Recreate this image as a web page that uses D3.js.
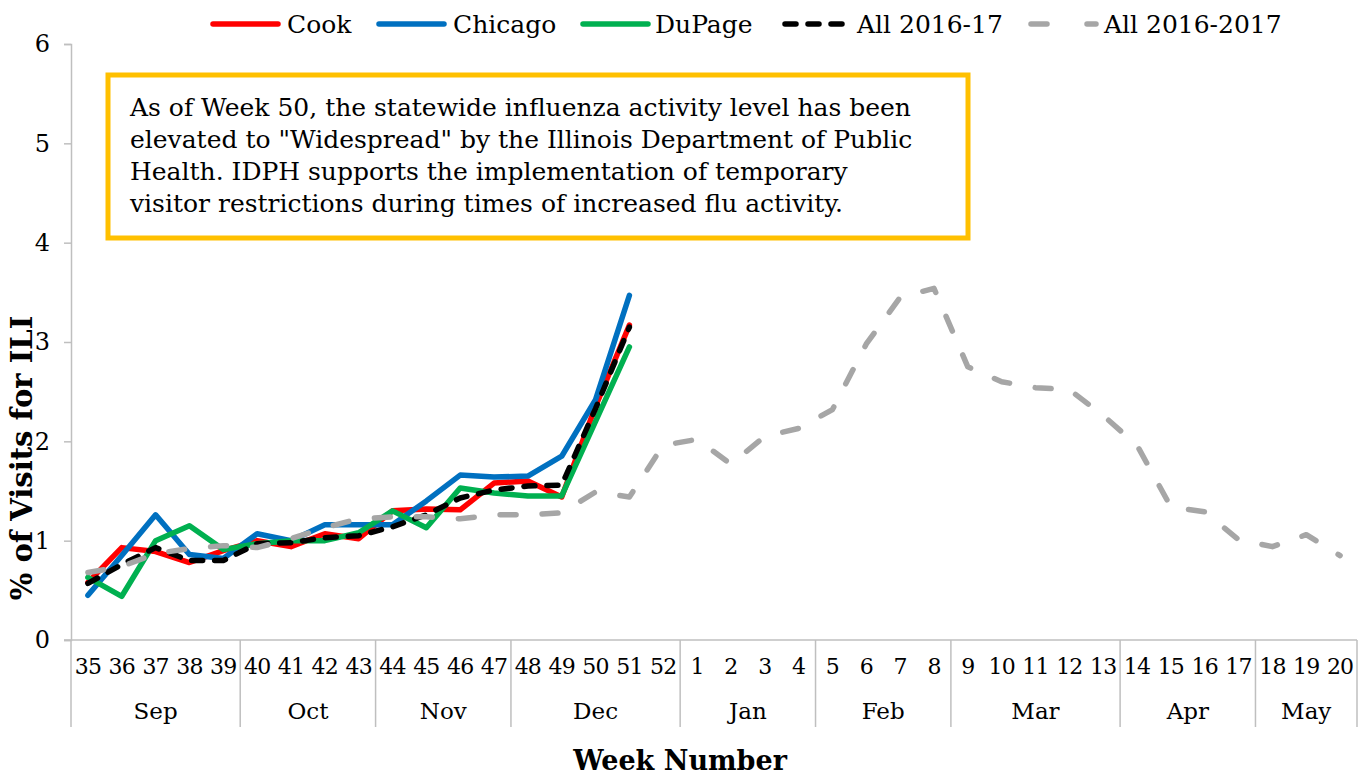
<!DOCTYPE html>
<html>
<head>
<meta charset="utf-8">
<script src="https://cdn.jsdelivr.net/npm/d3@7"></script>
<style>
  html, body { margin: 0; padding: 0; background: #fff; }
  svg { display: block; font-family: "DejaVu Serif", serif; }
</style>
</head>
<body>
<svg id="chart" width="1359" height="776"></svg>
<script>
// ---- data ----
const weeks = ["35","36","37","38","39","40","41","42","43","44","45","46","47","48","49","50","51","52",
               "1","2","3","4","5","6","7","8","9","10","11","12","13","14","15","16","17","18","19","20"];
const months = ["Sep","Oct","Nov","Dec","Jan","Feb","Mar","Apr","May"];
const monthWeekCounts = [5,4,4,5,4,4,5,4,3];
const yTicks = [0,1,2,3,4,5,6];

const cook    = [0.58,0.93,0.89,0.78,0.90,1.00,0.94,1.07,1.02,1.30,1.32,1.31,1.58,1.60,1.44,2.35,3.17];
const chicago = [0.45,0.85,1.26,0.86,0.82,1.07,1.00,1.16,1.16,1.16,1.40,1.66,1.64,1.65,1.85,2.42,3.47];
const dupage  = [0.63,0.44,1.00,1.15,0.91,0.97,1.00,1.00,1.08,1.30,1.13,1.53,1.48,1.45,1.45,2.20,2.95];
const all1617 = [0.57,0.76,0.93,0.80,0.80,0.97,0.98,1.03,1.05,1.14,1.26,1.43,1.51,1.55,1.56,2.33,3.15];
const allPrev = [0.68,0.74,0.87,0.92,0.95,0.93,1.02,1.13,1.22,1.24,1.24,1.22,1.26,1.26,1.28,1.49,1.44,1.96,
                 2.02,1.77,2.05,2.13,2.32,2.98,3.45,3.54,2.75,2.60,2.54,2.52,2.26,1.96,1.34,1.29,1.01,0.94,1.06,0.85];

const seriesNames = ["Cook","Chicago","DuPage","All 2016-17","All 2016-2017"];
const seriesData = [cook, chicago, dupage, all1617, allPrev];
const seriesColors = ["#FF0000","#0070C0","#00B050","#000000","#A6A6A6"];
const seriesDash = [null, null, null, "11,12", "16,26"];

const noteLines = [
  "As of Week 50, the statewide influenza activity level has been",
  "elevated to \"Widespread\" by the Illinois Department of Public",
  "Health. IDPH supports the implementation of temporary",
  "visitor restrictions during times of increased flu activity."
];

// ---- layout ----
const svg = d3.select("#chart");
const plot = {left: 71, right: 1357, top: 44, bottom: 640};
const axisColor = "#BFBFBF";

const x = d3.scaleBand().domain(weeks).range([plot.left, plot.right]).padding(0);
const y = d3.scaleLinear().domain([0, 6]).range([plot.bottom, plot.top]);
const cx = w => x(w) + x.bandwidth() / 2;

// y axis
const yAxis = svg.append("g").attr("transform", `translate(${plot.left},0)`)
  .call(d3.axisLeft(y).tickValues(yTicks).tickSize(7).tickPadding(14).tickFormat(d3.format("d")));
yAxis.select(".domain").attr("stroke", axisColor).attr("stroke-width", 1.5);
yAxis.selectAll(".tick line").attr("stroke", axisColor).attr("stroke-width", 1.5);
yAxis.selectAll(".tick text").attr("font-size", 24).attr("fill", "#000")
  .attr("font-family", "DejaVu Serif");

// x axis (week labels)
const xAxis = svg.append("g").attr("transform", `translate(0,${plot.bottom})`)
  .call(d3.axisBottom(x).tickSize(0).tickPadding(18));
xAxis.select(".domain").remove();
xAxis.selectAll(".tick text").attr("font-size", 22).attr("fill", "#000")
  .attr("font-family", "DejaVu Serif").attr("letter-spacing", "-0.8");
svg.append("line").attr("x1", plot.left - 7).attr("x2", plot.right)
  .attr("y1", plot.bottom).attr("y2", plot.bottom)
  .attr("stroke", axisColor).attr("stroke-width", 1.5);

// month groups
let start = 0;
const groups = monthWeekCounts.map((n, i) => {
  const g = {name: months[i], first: weeks[start], last: weeks[start + n - 1]};
  start += n;
  return g;
});
const sepX = groups.map(g => x(g.first)).concat([x(groups[groups.length-1].last) + x.bandwidth()]);
svg.append("g").selectAll("line").data(sepX).join("line")
  .attr("x1", d => d).attr("x2", d => d)
  .attr("y1", plot.bottom).attr("y2", plot.bottom + 87)
  .attr("stroke", axisColor).attr("stroke-width", 1.5);
svg.append("g").selectAll("text").data(groups).join("text")
  .attr("x", g => (x(g.first) + x(g.last) + x.bandwidth()) / 2)
  .attr("y", plot.bottom + 79)
  .attr("text-anchor", "middle").attr("font-size", 23).text(g => g.name);

// axis titles
svg.append("text").attr("x", 680).attr("y", 770).attr("text-anchor", "middle")
  .attr("font-size", 27).attr("font-weight", "bold").text("Week Number");
svg.append("text").attr("transform", "translate(32,458) rotate(-90)")
  .attr("text-anchor", "middle").attr("font-size", 29).attr("font-weight", "bold")
  .text("% of Visits for ILI");

// lines
const line = d3.line().x((d, i) => cx(weeks[i])).y(d => y(d));
seriesData.forEach((data, k) => {
  svg.append("path").datum(data)
    .attr("d", line)
    .attr("fill", "none")
    .attr("stroke", seriesColors[k])
    .attr("stroke-width", 5.5)
    .attr("stroke-linejoin", "round")
    .attr("stroke-linecap", "round")
    .attr("stroke-dasharray", seriesDash[k]);
});

// legend
const legendItems = [
  {lx: 210, tx: 287}, {lx: 376, tx: 453}, {lx: 580, tx: 655},
  {lx: 782, tx: 857}, {lx: 1028, tx: 1104}
];
const legend = svg.append("g");
seriesNames.forEach((name, k) => {
  const it = legendItems[k];
  legend.append("line").attr("x1", it.lx + 3).attr("x2", it.lx + 68)
    .attr("y1", 24).attr("y2", 24)
    .attr("stroke", seriesColors[k]).attr("stroke-width", 5.5)
    .attr("stroke-linecap", "round")
    .attr("stroke-dasharray", k === 3 ? "11,12" : (k === 4 ? "16,40" : null));
  legend.append("text").attr("x", it.tx).attr("y", 33)
    .attr("font-size", 25).text(name);
});

// annotation box
svg.append("rect").attr("x", 108).attr("y", 75).attr("width", 860).attr("height", 163)
  .attr("fill", "#fff").attr("stroke", "#FFC000").attr("stroke-width", 5);
svg.append("g").selectAll("text").data(noteLines).join("text")
  .attr("x", 130).attr("y", (d, i) => 116 + i * 32)
  .attr("font-size", 25).text(d => d);
</script>
</body>
</html>
